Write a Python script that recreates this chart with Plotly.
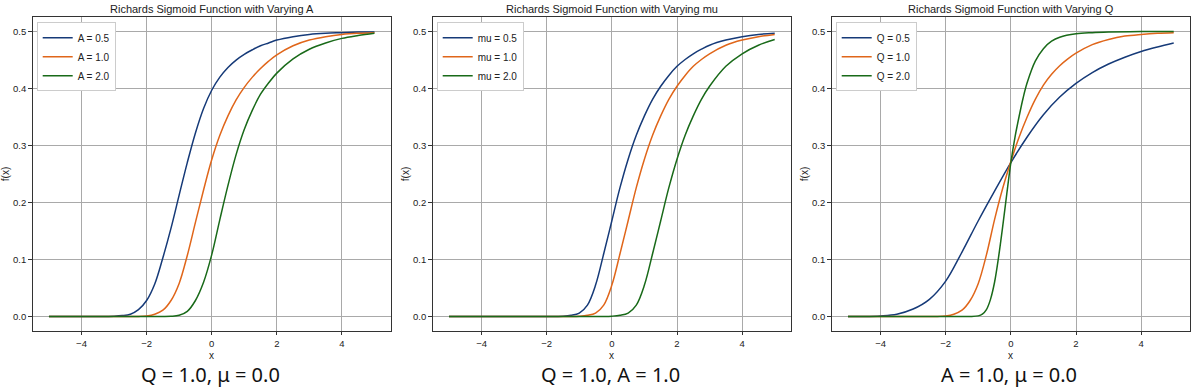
import plotly.graph_objects as go

# --- values ---
X1 = [-5, -4, -3.5, -3, -2.75, -2.5, -2.25, -2, -1.75, -1.5, -1.25, -1, -0.75, -0.5, -0.25,
      0, 0.25, 0.5, 0.75, 1, 1.25, 1.5, 1.75, 2, 2.5, 3, 3.5, 4, 4.5, 5]

# panel 1: varying A (Q = 1.0, mu = 0.0)
A_05 = [0, 0, 0, 0.0005, 0.0015, 0.004, 0.012, 0.028, 0.057, 0.103, 0.155, 0.213, 0.27, 0.322, 0.365,
        0.397, 0.42, 0.437, 0.45, 0.46, 0.468, 0.475, 0.48, 0.485, 0.491, 0.495, 0.497, 0.498, 0.499, 0.499]
A_10 = [0, 0, 0, 0, 0, 0, 0, 0.001, 0.004, 0.011, 0.028, 0.058, 0.107, 0.165, 0.222,
        0.275, 0.318, 0.352, 0.38, 0.402, 0.42, 0.435, 0.448, 0.459, 0.475, 0.485, 0.491, 0.495, 0.497, 0.498]
A_20 = [0, 0, 0, 0, 0, 0, 0, 0, 0, 0, 0.0003, 0.002, 0.009, 0.028, 0.06,
        0.108, 0.17, 0.23, 0.284, 0.328, 0.362, 0.39, 0.41, 0.427, 0.452, 0.469, 0.48, 0.488, 0.493, 0.497]

# panel 2: varying mu (Q = 1.0, A = 1.0)
X2 = [-5, -4, -3, -2, -1.5, -1.25, -1, -0.75, -0.5, -0.25, 0, 0.25, 0.5, 0.75, 1, 1.25, 1.5,
      1.75, 2, 2.25, 2.5, 2.75, 3, 3.5, 4, 4.5, 5]
MU_05 = [0, 0, 0, 0, 0.0005, 0.002, 0.006, 0.02, 0.055, 0.11, 0.168, 0.226, 0.276, 0.318, 0.352, 0.381,
         0.404, 0.423, 0.439, 0.451, 0.461, 0.469, 0.476, 0.485, 0.491, 0.495, 0.497]
MU_10 = [0, 0, 0, 0, 0, 0, 0.0005, 0.002, 0.006, 0.02, 0.055, 0.11, 0.168, 0.226, 0.276, 0.318,
         0.352, 0.381, 0.404, 0.423, 0.439, 0.451, 0.461, 0.476, 0.485, 0.491, 0.495]
MU_20 = [0, 0, 0, 0, 0, 0, 0, 0, 0, 0, 0.0005, 0.002, 0.006, 0.02, 0.055, 0.11,
         0.168, 0.226, 0.276, 0.318, 0.352, 0.381, 0.404, 0.439, 0.461, 0.476, 0.486]

# panel 3: varying Q (A = 1.0, mu = 0.0)
X_Q05 = [-5, -4.5, -4, -3.5, -3, -2.5, -2, -1.5, -1, -0.5, 0, 0.5, 1, 1.5, 2, 2.5, 3, 3.5, 4, 4.5, 5]
Q_05 = [0, 0, 0.001, 0.004, 0.013, 0.03, 0.062, 0.113, 0.168, 0.22, 0.27, 0.315, 0.354, 0.385, 0.409,
        0.428, 0.443, 0.455, 0.465, 0.473, 0.48]
Q_10 = [0, 0, 0, 0, 0, 0, 0, 0.001, 0.004, 0.011, 0.028, 0.058, 0.108, 0.17, 0.225,
        0.272, 0.314, 0.35, 0.381, 0.406, 0.425, 0.44, 0.452, 0.462, 0.477, 0.486, 0.492, 0.495, 0.497, 0.498]
X_Q20 = [-5, -4, -3, -2, -1.5, -1.25, -1, -0.875, -0.75, -0.625, -0.5, -0.375, -0.25, -0.125,
         0, 0.125, 0.25, 0.375, 0.5, 0.75, 1, 1.25, 1.5, 2, 2.5, 3, 4, 5]
Q_20 = [0, 0, 0, 0, 0, 0, 0.001, 0.004, 0.012, 0.03, 0.06, 0.105, 0.158, 0.215,
        0.27, 0.314, 0.35, 0.383, 0.41, 0.448, 0.47, 0.483, 0.49, 0.496, 0.498, 0.499, 0.5, 0.5]

PANELS = [
    ("Richards Sigmoid Function with Varying A", "Q = 1.0, μ = 0.0",
     [("A = 0.5", X1, A_05), ("A = 1.0", X1, A_10), ("A = 2.0", X1, A_20)]),
    ("Richards Sigmoid Function with Varying mu", "Q = 1.0, A = 1.0",
     [("mu = 0.5", X2, MU_05), ("mu = 1.0", X2, MU_10), ("mu = 2.0", X2, MU_20)]),
    ("Richards Sigmoid Function with Varying Q", "A = 1.0, μ = 0.0",
     [("Q = 0.5", X_Q05, Q_05), ("Q = 1.0", X1, Q_10), ("Q = 2.0", X_Q20, Q_20)]),
]

COLORS = ["#163a78", "#e0661a", "#196a19"]
W, H = 1195, 388
# plot-area pixel boxes (left, right) measured on the reference
BOXES = [(32.7, 390.7), (432.7, 791.0), (831.7, 1190.0)]
TOP, BOTTOM = 17.3, 330.7
TXT = "Liberation Sans"

fig = go.Figure()
annotations = []
for i, (title, caption, series) in enumerate(PANELS):
    n = "" if i == 0 else str(i + 1)
    left, right = BOXES[i]
    cx = (left + right) / 2 / W
    for j, (name, xs, ys) in enumerate(series):
        fig.add_trace(go.Scatter(
            x=xs, y=ys, name=name, mode="lines",
            line=dict(color=COLORS[j], width=1.5, shape="spline", smoothing=1.0),
            xaxis="x" + n, yaxis="y" + n, legend="legend" + n))

    axis_common = dict(showline=True, mirror=True, linecolor="#333", linewidth=1,
                       ticks="outside", ticklen=3.5, tickcolor="#333",
                       showgrid=True, gridcolor="#a9a9a9", gridwidth=1, zeroline=False,
                       tickfont=dict(family=TXT, size=9.5, color="#222"))
    fig.layout["xaxis" + n] = dict(axis_common, domain=[left / W, right / W], range=[-5.5, 5.5],
                                   tickvals=[-4, -2, 0, 2, 4], anchor="y" + n)
    fig.layout["yaxis" + n] = dict(axis_common, domain=[1 - BOTTOM / H, 1 - TOP / H],
                                   range=[-0.025, 0.525], tickvals=[0, 0.1, 0.2, 0.3, 0.4, 0.5],
                                   tickformat=".1f", anchor="x" + n)
    fig.layout["legend" + n] = dict(x=(left + 4) / W, y=1 - (TOP + 5) / H, xanchor="left", yanchor="top",
                                    bgcolor="white", bordercolor="#cccccc", borderwidth=1,
                                    font=dict(family=TXT, size=10, color="#222"),
                                    itemwidth=30, tracegroupgap=0)

    annotations += [
        dict(text=title, x=cx, y=1 - 8.5 / H, xref="paper", yref="paper", showarrow=False,
             font=dict(family=TXT, size=11, color="#222"), xanchor="center", yanchor="middle"),
        dict(text="x", x=cx, y=1 - 355 / H, xref="paper", yref="paper", showarrow=False,
             font=dict(family=TXT, size=10, color="#222"), xanchor="center", yanchor="middle"),
        dict(text="f(x)", x=(left - 26.5) / W, y=1 - 174 / H, xref="paper", yref="paper",
             showarrow=False, textangle=-90,
             font=dict(family=TXT, size=10, color="#222"), xanchor="center", yanchor="middle"),
        dict(text=caption, x=cx - 1.5 / W, y=1 - 374 / H, xref="paper", yref="paper", showarrow=False,
             font=dict(family="Noto Sans", size=20, color="#111"), xanchor="center", yanchor="middle"),
    ]

fig.update_layout(width=W, height=H, margin=dict(l=0, r=0, t=0, b=0),
                  paper_bgcolor="white", plot_bgcolor="white",
                  annotations=annotations, showlegend=True)

# the page's default 8px body margin would shift the whole figure
fig.write_html("out.html", config={"displayModeBar": False},
               post_script="document.body.style.margin='0';")
